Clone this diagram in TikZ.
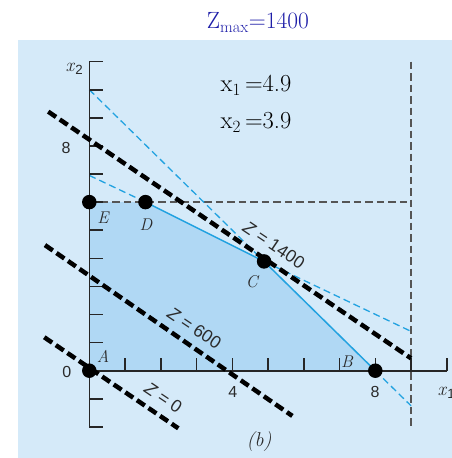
\documentclass[tikz,border=0pt]{standalone}
\usepackage{fontspec}
\newfontfamily\hel{Liberation Sans}
\definecolor{bgblue}{HTML}{D5EAF9}
\definecolor{regblue}{HTML}{B0D8F4}
\definecolor{cyanl}{HTML}{22A2E0}
\definecolor{grayd}{HTML}{555555}
\definecolor{titleblue}{HTML}{1E1EA8}
\definecolor{labgray}{HTML}{2A2A2A}
\begin{document}
\begin{tikzpicture}[x=1pt,y=-1pt,
  titlestyle/.style={inner sep=0pt, text=titleblue, font=\fontsize{23.5}{27}\selectfont},
  solstyle/.style={inner sep=0pt, text=black, font=\fontsize{24.5}{28}\selectfont},
  ptlab/.style={inner sep=0pt, text=labgray, font=\fontsize{17}{19}\selectfont\itshape},
  numlab/.style={inner sep=0pt, text=labgray, font=\hel\fontsize{16}{18}\selectfont},
  zlab/.style={inner sep=0pt, text=labgray, font=\hel\fontsize{17.5}{20}\selectfont, rotate=-34},
  axlab/.style={inner sep=0pt, text=labgray, font=\fontsize{19}{21}\selectfont},
  capstyle/.style={inner sep=0pt, text=labgray, font=\fontsize{20}{23}\selectfont\itshape},
  zline/.style={line width=4.5pt, dash pattern=on 9.5pt off 4.5pt, black},
  cyandash/.style={line width=1.3pt, dash pattern=on 7pt off 4pt, cyanl},
  cyansolid/.style={line width=1.5pt, cyanl},
  graydash/.style={line width=1.8pt, dash pattern=on 7.5pt off 4pt, grayd},
  axisline/.style={line width=1.6pt, black!85},
  dot/.style={circle, fill=black, inner sep=0pt, minimum size=14.5pt}]
\useasboundingbox (0,0) rectangle (452,458);
\fill[bgblue] (18,40) rectangle (452,458);
\node[titlestyle, anchor=base] (title) at (258,28.3) {Z\textsubscript{max}=1400};
\node[solstyle, anchor=base west] (sx1) at (220.5,91.7) {x\textsubscript{1}\,=4.9};
\node[solstyle, anchor=base west] (sx2) at (220.5,128.3) {x\textsubscript{2}\,=3.9};
\begin{scope}[shift={(89.3,370.7)}, x={(35.75pt,0pt)}, y={(0pt,28.1pt)}]
  \coordinate (A) at (0,0);
  \coordinate (B) at (8,0);
  \coordinate (C) at (4.889,3.889);
  \coordinate (D) at (1.571,6);
  \coordinate (E) at (0,6);
  \coordinate (G9) at (9,6);
  \coordinate (Vt) at (9,11);
  \coordinate (Vb) at (9,-2);
  \coordinate (L1s) at (0,6.95);
  \coordinate (L1e) at (9,1.4);
  \coordinate (L2s) at (0,10);
  \coordinate (L2e) at (9,-1.25);
  \coordinate (Z0s) at (-1.26,1.19);
  \coordinate (Z0e) at (2.49,-2.05);
  \coordinate (Z6s) at (-1.24,4.47);
  \coordinate (Z6e) at (5.68,-1.61);
  \coordinate (Z14s) at (-1.15,9.22);
  \coordinate (Z14e) at (9,0.44);
  \coordinate (Yb) at (0,-2);
  \coordinate (Yt) at (0,11);
  \coordinate (Xe) at (10,0);
  % feasible region
  \fill[regblue] (A) -- (B) -- (C) -- (D) -- (E) -- cycle;
  % constraint lines
  \draw[graydash] (E) -- (G9);
  \draw[graydash] (Vt) -- (Vb);
  \draw[cyandash] (L1s) -- (D);
  \draw[cyandash] (C) -- (L1e);
  \draw[cyandash] (L2s) -- (C);
  \draw[cyandash] (B) -- (L2e);
  \draw[cyansolid] (D) -- (C) -- (B);
  % axes
  \draw[axisline] (Yb) -- (Yt);
  \draw[axisline] (A) -- (Xe);
  \foreach \k in {-2,...,11} \draw[axisline] (0,\k) -- ++(14pt,0pt);
  \foreach \k in {1,...,10} \draw[axisline] (\k,0) -- ++(0pt,13pt);
  % objective lines
  \draw[zline] (Z0s) -- (Z0e);
  \draw[zline] (Z6s) -- (Z6e);
  \draw[zline] (Z14s) -- (Z14e);
  % corner points
  \node[dot] (nA) at (A) {};
  \node[dot] (nB) at (B) {};
  \node[dot] (nC) at (C) {};
  \node[dot] (nD) at (D) {};
  \node[dot] (nE) at (E) {};
\end{scope}
% point labels
\node[ptlab] (lA) at (103,356.5) {A};
\node[ptlab] (lB) at (347,361.5) {B};
\node[ptlab] (lC) at (251.7,281.7) {C};
\node[ptlab] (lD) at (146,224.5) {D};
\node[ptlab] (lE) at (103,218) {E};
% axis numbers
\node[numlab] (n0) at (66.7,371.7) {0};
\node[numlab] (n8y) at (66,148) {8};
\node[numlab] (n4) at (232.7,391.7) {4};
\node[numlab] (n8x) at (375,391.7) {8};
% axis names
\node[axlab, anchor=base west] (ax2) at (65.5,71) {\textit{x}\textsubscript{\hel 2}};
\node[axlab, anchor=base west] (ax1) at (437.5,395.5) {\textit{x}\textsubscript{\hel 1}};
% objective labels
\node[zlab] (z1400) at (274,245) {\textit{Z} = 1400};
\node[zlab] (z600) at (194.5,328) {\textit{Z} = 600};
\node[zlab] (z0) at (163.5,398) {\textit{Z} = 0};
% caption
\node[capstyle] (cap) at (259,442) {(b)};
\end{tikzpicture}
\end{document}
